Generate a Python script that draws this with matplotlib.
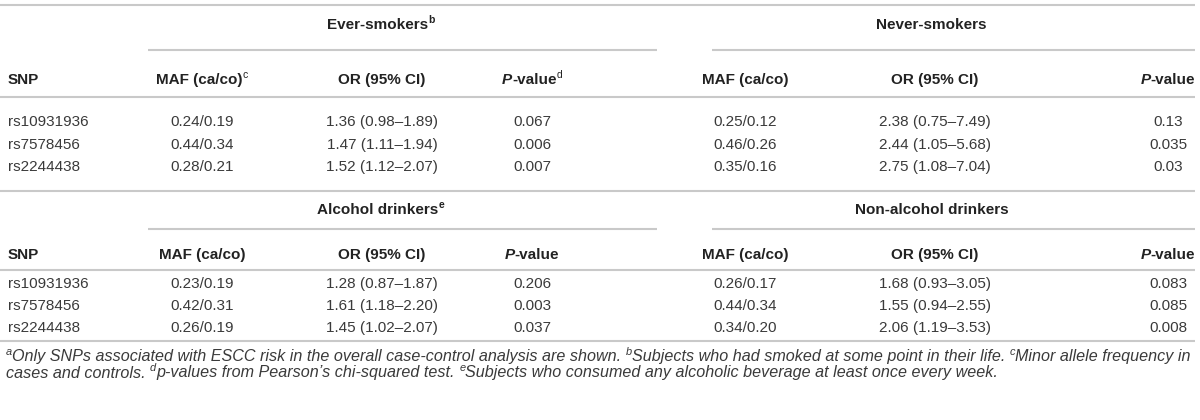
import matplotlib
matplotlib.use("Agg")
import matplotlib.pyplot as plt

# ---------------- data ----------------
snps = ["rs10931936", "rs7578456", "rs2244438"]
group_titles = [["Ever-smokers", "Never-smokers"], ["Alcohol drinkers", "Non-alcohol drinkers"]]
group_sups = [["b", ""], ["e", ""]]

ever_maf_ca = [0.24, 0.44, 0.28]
ever_maf_co = [0.19, 0.34, 0.21]
ever_or = [1.36, 1.47, 1.52]
ever_lo = [0.98, 1.11, 1.12]
ever_hi = [1.89, 1.94, 2.07]
ever_p = ["0.067", "0.006", "0.007"]

never_maf_ca = [0.25, 0.46, 0.35]
never_maf_co = [0.12, 0.26, 0.16]
never_or = [2.38, 2.44, 2.75]
never_lo = [0.75, 1.05, 1.08]
never_hi = [7.49, 5.68, 7.04]
never_p = ["0.13", "0.035", "0.03"]

alc_maf_ca = [0.23, 0.42, 0.26]
alc_maf_co = [0.19, 0.31, 0.19]
alc_or = [1.28, 1.61, 1.45]
alc_lo = [0.87, 1.18, 1.02]
alc_hi = [1.87, 2.20, 2.07]
alc_p = ["0.206", "0.003", "0.037"]

nonalc_maf_ca = [0.26, 0.44, 0.34]
nonalc_maf_co = [0.17, 0.34, 0.20]
nonalc_or = [1.68, 1.55, 2.06]
nonalc_lo = [0.93, 0.94, 1.19]
nonalc_hi = [3.05, 2.55, 3.53]
nonalc_p = ["0.083", "0.085", "0.008"]

# header superscripts per block: (MAF sup, P sup) for left group
hdr_sups = [("c", "d"), ("", "")]

# ---------------- layout ----------------
W, H = 1200, 420
FONT = "Liberation Sans"
FS = 11.0
TXT = "#3a3a3a"
HDR = "#222222"
LINE = "#c9c9c9"
LW = 1.5

fig = plt.figure(figsize=(W / 100, H / 100), dpi=100)
ax = fig.add_axes([0, 0, 1, 1])
ax.set_xlim(0, W)
ax.set_ylim(H, 0)
ax.axis("off")
fig.canvas.draw()
renderer = fig.canvas.get_renderer()


def text_width(s, **kw):
    t = ax.text(0, 0, s, **kw)
    bb = t.get_window_extent(renderer=renderer)
    t.remove()
    return bb.width


def draw_runs(x, y, runs, ha="center"):
    """runs: list of (text, kwargs, is_super)"""
    widths = []
    for s, kw, sup in runs:
        kk = dict(family=FONT, fontsize=FS)
        kk.update(kw)
        if sup:
            kk["fontsize"] = kk["fontsize"] * 0.68
        widths.append((text_width(s, **kk), kk, s, sup))
    total = sum(w for w, _, _, _ in widths)
    if ha == "center":
        cx = x - total / 2
    elif ha == "right":
        cx = x - total
    else:
        cx = x
    for w, kk, s, sup in widths:
        yy = y - (5 if sup else 0)
        ax.text(cx, yy, s, ha="left", va="center", **kk)
        cx += w


def hline(y, x0, x1):
    ax.plot([x0, x1], [y, y], color=LINE, lw=LW, solid_capstyle="butt")


col_snp = 8
cols_left = [202, 382, 532]
cols_right = [745, 935, 1168]
span_left = (148, 657)
span_right = (712, 1195)

# per block: top line, title, group underline, header, header line, rows
block_y = [
    dict(top=5, title=25, sub=50, hdr=80, hl=97, rows=[122, 145, 167]),
    dict(top=191, title=210, sub=229, hdr=255, hl=270, rows=[284, 306, 328]),
]
bottom_line = 341

blocks = [
    [(ever_maf_ca, ever_maf_co, ever_or, ever_lo, ever_hi, ever_p),
     (never_maf_ca, never_maf_co, never_or, never_lo, never_hi, never_p)],
    [(alc_maf_ca, alc_maf_co, alc_or, alc_lo, alc_hi, alc_p),
     (nonalc_maf_ca, nonalc_maf_co, nonalc_or, nonalc_lo, nonalc_hi, nonalc_p)],
]

bold = dict(weight="bold", color=HDR)
for bi, groups in enumerate(blocks):
    by = block_y[bi]
    hline(by["top"], 0, 1195)
    for gi, (cols, span) in enumerate([(cols_left, span_left), (cols_right, span_right)]):
        title = group_titles[bi][gi]
        sup = group_sups[bi][gi]
        runs = [(title, bold, False)]
        if sup:
            runs.append((sup, bold, True))
        draw_runs((span[0] + span[1]) / 2 - 22, by["title"], runs)
        hline(by["sub"], span[0], span[1])
        msup, psup = hdr_sups[bi] if gi == 0 else ("", "")
        r = [("MAF (ca/co)", bold, False)]
        if msup:
            r.append((msup, dict(color=HDR), True))
        draw_runs(cols[0], by["hdr"], r)
        draw_runs(cols[1], by["hdr"], [("OR (95% CI)", bold, False)])
        r = [("P", dict(weight="bold", style="italic", color=HDR), False),
             ("-value", bold, False)]
        if psup:
            r.append((psup, dict(color=HDR), True))
        draw_runs(cols[2], by["hdr"], r)
        maf_ca, maf_co, orv, lo, hi, pv = groups[gi]
        for ri in range(3):
            yy = by["rows"][ri]
            ax.text(cols[0], yy, f"{maf_ca[ri]:.2f}/{maf_co[ri]:.2f}", ha="center", va="center",
                    family=FONT, fontsize=FS, color=TXT)
            ax.text(cols[1], yy, f"{orv[ri]:.2f} ({lo[ri]:.2f}\u2013{hi[ri]:.2f})", ha="center",
                    va="center", family=FONT, fontsize=FS, color=TXT)
            ax.text(cols[2], yy, pv[ri], ha="center", va="center", family=FONT, fontsize=FS, color=TXT)
    draw_runs(col_snp, by["hdr"], [("SNP", bold, False)], ha="left")
    hline(by["hl"], 0, 1195)
    for ri, s in enumerate(snps):
        ax.text(col_snp, by["rows"][ri], s, ha="left", va="center", family=FONT, fontsize=FS, color=TXT)

hline(bottom_line, 0, 1195)

FFS = 11.6
it = dict(style="italic", color=TXT, fontsize=FFS)
its = dict(style="italic", color=TXT, fontsize=FFS)
foot1 = [("a", its, True),
         ("Only SNPs associated with ESCC risk in the overall case-control analysis are shown. ", it, False),
         ("b", its, True),
         ("Subjects who had smoked at some point in their life. ", it, False),
         ("c", its, True),
         ("Minor allele frequency in", it, False)]
foot2 = [("cases and controls. ", it, False),
         ("d", its, True),
         ("p-values from Pearson\u2019s chi-squared test. ", it, False),
         ("e", its, True),
         ("Subjects who consumed any alcoholic beverage at least once every week.", it, False)]
draw_runs(6, 357, foot1, ha="left")
draw_runs(6, 373, foot2, ha="left")

fig.savefig("out.png", dpi=100)
